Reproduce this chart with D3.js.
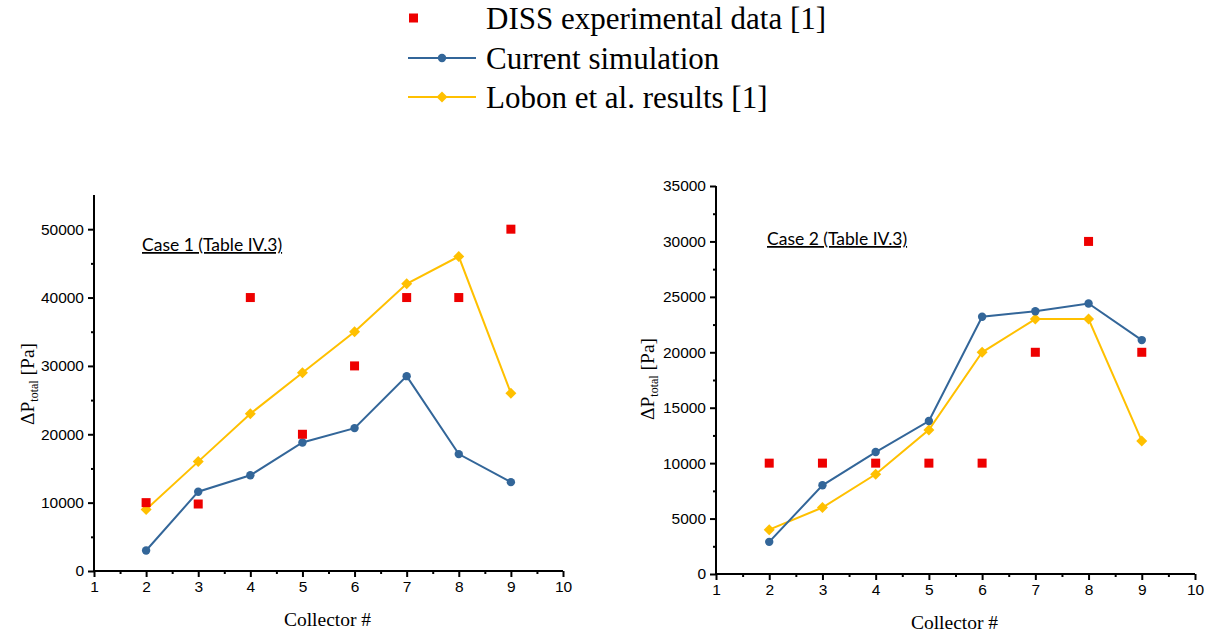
<!DOCTYPE html>
<html>
<head>
<meta charset="utf-8">
<script src="https://cdn.jsdelivr.net/npm/d3@7"></script>
<style>
  html, body { margin: 0; padding: 0; background: #fff; }
  svg { display: block; }
  .tick text { font-family: "Liberation Sans", Arial, sans-serif; font-size: 15.5px; fill: #000; }
</style>
</head>
<body>
<svg id="chart" width="1215" height="637"></svg>
<script>
// Collector numbers shared by both cases
const collectors = [2, 3, 4, 5, 6, 7, 8, 9];

// Case 1 pressure drop [Pa]
const case1Diss    = [10000, 9800, 40000, 20000, 30000, 40000, 40000, 50000];
const case1Current = [3000, 11600, 14000, 18800, 20900, 28500, 17100, 13000];
const case1Lobon   = [9000, 16000, 23000, 29000, 35000, 42000, 46000, 26000];

// Case 2 pressure drop [Pa]
const case2Diss    = [10000, 10000, 10000, 10000, 10000, 20000, 30000, 20000];
const case2Current = [2900, 8000, 11000, 13800, 23200, 23700, 24400, 21100];
const case2Lobon   = [4000, 6000, 9000, 13000, 20000, 23000, 23000, 12000];

// Axis ticks
const xTicks = [1, 2, 3, 4, 5, 6, 7, 8, 9, 10];
const case1YTicks = [0, 10000, 20000, 30000, 40000, 50000];
const case2YTicks = [0, 5000, 10000, 15000, 20000, 25000, 30000, 35000];

const seriesNames = ["DISS experimental data [1]", "Current simulation", "Lobon et al. results [1]"];
const caseTitles = ["Case 1 (Table IV.3)", "Case 2 (Table IV.3)"];

const RED = "#ee0000", BLUE = "#336699", YELLOW = "#ffc000";

const svg = d3.select("#chart");

function drawPanel(opt) {
  const x = d3.scaleLinear().domain([1, 10]).range([opt.left, opt.right]);
  const y = d3.scaleLinear().domain([0, opt.yMax]).range([opt.bottom, opt.top]);
  const g = svg.append("g");

  // minor ticks halfway between the labelled ones
  const xMinor = d3.range(1.5, 10, 1);
  const yMinor = d3.range(opt.yStep / 2, opt.yMax, opt.yStep);

  const xAxis = g.append("g")
    .attr("transform", `translate(0,${opt.bottom})`)
    .call(d3.axisBottom(x).tickValues(xTicks).tickFormat(d3.format("d")).tickSize(6).tickPadding(4).tickSizeOuter(0));
  g.append("g")
    .attr("transform", `translate(0,${opt.bottom})`)
    .call(d3.axisBottom(x).tickValues(xMinor).tickFormat("").tickSize(3).tickSizeOuter(0))
    .select(".domain").remove();

  const yAxis = g.append("g")
    .attr("transform", `translate(${opt.left},0)`)
    .call(d3.axisLeft(y).tickValues(opt.yTicks).tickFormat(d3.format("d")).tickSize(6).tickPadding(4).tickSizeOuter(0));
  g.append("g")
    .attr("transform", `translate(${opt.left},0)`)
    .call(d3.axisLeft(y).tickValues(yMinor).tickFormat("").tickSize(3).tickSizeOuter(0))
    .select(".domain").remove();

  g.selectAll(".domain, .tick line").attr("stroke", "#000").attr("stroke-width", 2);
  yAxis.select(".domain").attr("d", `M0,${opt.bottom}V${opt.top}`);
  xAxis.select(".domain").attr("d", `M${opt.left},0H${opt.right}`);

  // axis titles
  g.append("text")
    .attr("x", (opt.left + opt.right) / 2 - 1)
    .attr("y", opt.bottom + 55)
    .attr("text-anchor", "middle")
    .attr("font-family", "'Liberation Serif', 'Times New Roman', serif")
    .attr("font-size", 19.5)
    .attr("fill", "#000")
    .text("Collector #");

  const yt = g.append("text")
    .attr("transform", `translate(${opt.yTitleX},${opt.yTitleY}) rotate(-90)`)
    .attr("text-anchor", "middle")
    .attr("font-family", "'Liberation Serif', 'Times New Roman', serif")
    .attr("font-size", 19.5)
    .attr("fill", "#000");
  yt.append("tspan").text("\u0394P");
  yt.append("tspan").attr("font-size", 12).attr("dy", 4).text("total");
  yt.append("tspan").attr("dy", -4).text(" [Pa]");

  // case title
  g.append("text")
    .attr("x", opt.titleX)
    .attr("y", opt.titleY)
    .attr("font-family", "Lato, 'Open Sans', sans-serif")
    .attr("font-size", 17.5)
    .attr("fill", "#000")
    .attr("text-decoration", "underline")
    .text(opt.title);

  const pts = (vals) => collectors.map((c, i) => [c, vals[i]]);
  const line = d3.line().x(d => x(d[0])).y(d => y(d[1]));

  // Lobon et al. results
  g.append("path").attr("d", line(pts(opt.lobon)))
    .attr("fill", "none").attr("stroke", YELLOW).attr("stroke-width", 2);
  g.selectAll(".lob").data(pts(opt.lobon)).join("path")
    .attr("transform", d => `translate(${x(d[0])},${y(d[1])})`)
    .attr("d", "M0,-5.5L5.5,0L0,5.5L-5.5,0Z")
    .attr("fill", YELLOW);

  // current simulation
  g.append("path").attr("d", line(pts(opt.current)))
    .attr("fill", "none").attr("stroke", BLUE).attr("stroke-width", 2);
  g.selectAll(".cur").data(pts(opt.current)).join("circle")
    .attr("cx", d => x(d[0])).attr("cy", d => y(d[1])).attr("r", 4.2)
    .attr("fill", BLUE);

  // DISS experimental data
  g.selectAll(".diss").data(pts(opt.diss)).join("rect")
    .attr("x", d => x(d[0]) - 4.5).attr("y", d => y(d[1]) - 4.5)
    .attr("width", 9).attr("height", 9)
    .attr("fill", RED);
}

drawPanel({
  left: 94, right: 563, top: 195, bottom: 571, yMax: 55000, yStep: 10000,
  yTicks: case1YTicks, diss: case1Diss, current: case1Current, lobon: case1Lobon,
  title: caseTitles[0], titleX: 142, titleY: 251, yTitleX: 34, yTitleY: 384
});
drawPanel({
  left: 716, right: 1195, top: 186, bottom: 574, yMax: 35000, yStep: 5000,
  yTicks: case2YTicks, diss: case2Diss, current: case2Current, lobon: case2Lobon,
  title: caseTitles[1], titleX: 767, titleY: 245, yTitleX: 654, yTitleY: 379
});

// legend
const legend = svg.append("g");
const rowY = [18, 58, 97];
const textX = 486;
legend.append("rect").attr("x", 409).attr("y", rowY[0] - 4.5).attr("width", 9).attr("height", 9).attr("fill", RED);
legend.append("line").attr("x1", 408).attr("x2", 476).attr("y1", rowY[1]).attr("y2", rowY[1])
  .attr("stroke", BLUE).attr("stroke-width", 2);
legend.append("circle").attr("cx", 442).attr("cy", rowY[1]).attr("r", 4.2).attr("fill", BLUE);
legend.append("line").attr("x1", 408).attr("x2", 476).attr("y1", rowY[2]).attr("y2", rowY[2])
  .attr("stroke", YELLOW).attr("stroke-width", 2);
legend.append("path").attr("transform", `translate(442,${rowY[2]})`)
  .attr("d", "M0,-5.5L5.5,0L0,5.5L-5.5,0Z").attr("fill", YELLOW);
legend.selectAll(".lt").data(seriesNames).join("text")
  .attr("x", textX).attr("y", (d, i) => rowY[i] + 11)
  .attr("font-family", "'Liberation Serif', 'Times New Roman', serif")
  .attr("font-size", 31)
  .attr("fill", "#000")
  .text(d => d);
</script>
</body>
</html>
